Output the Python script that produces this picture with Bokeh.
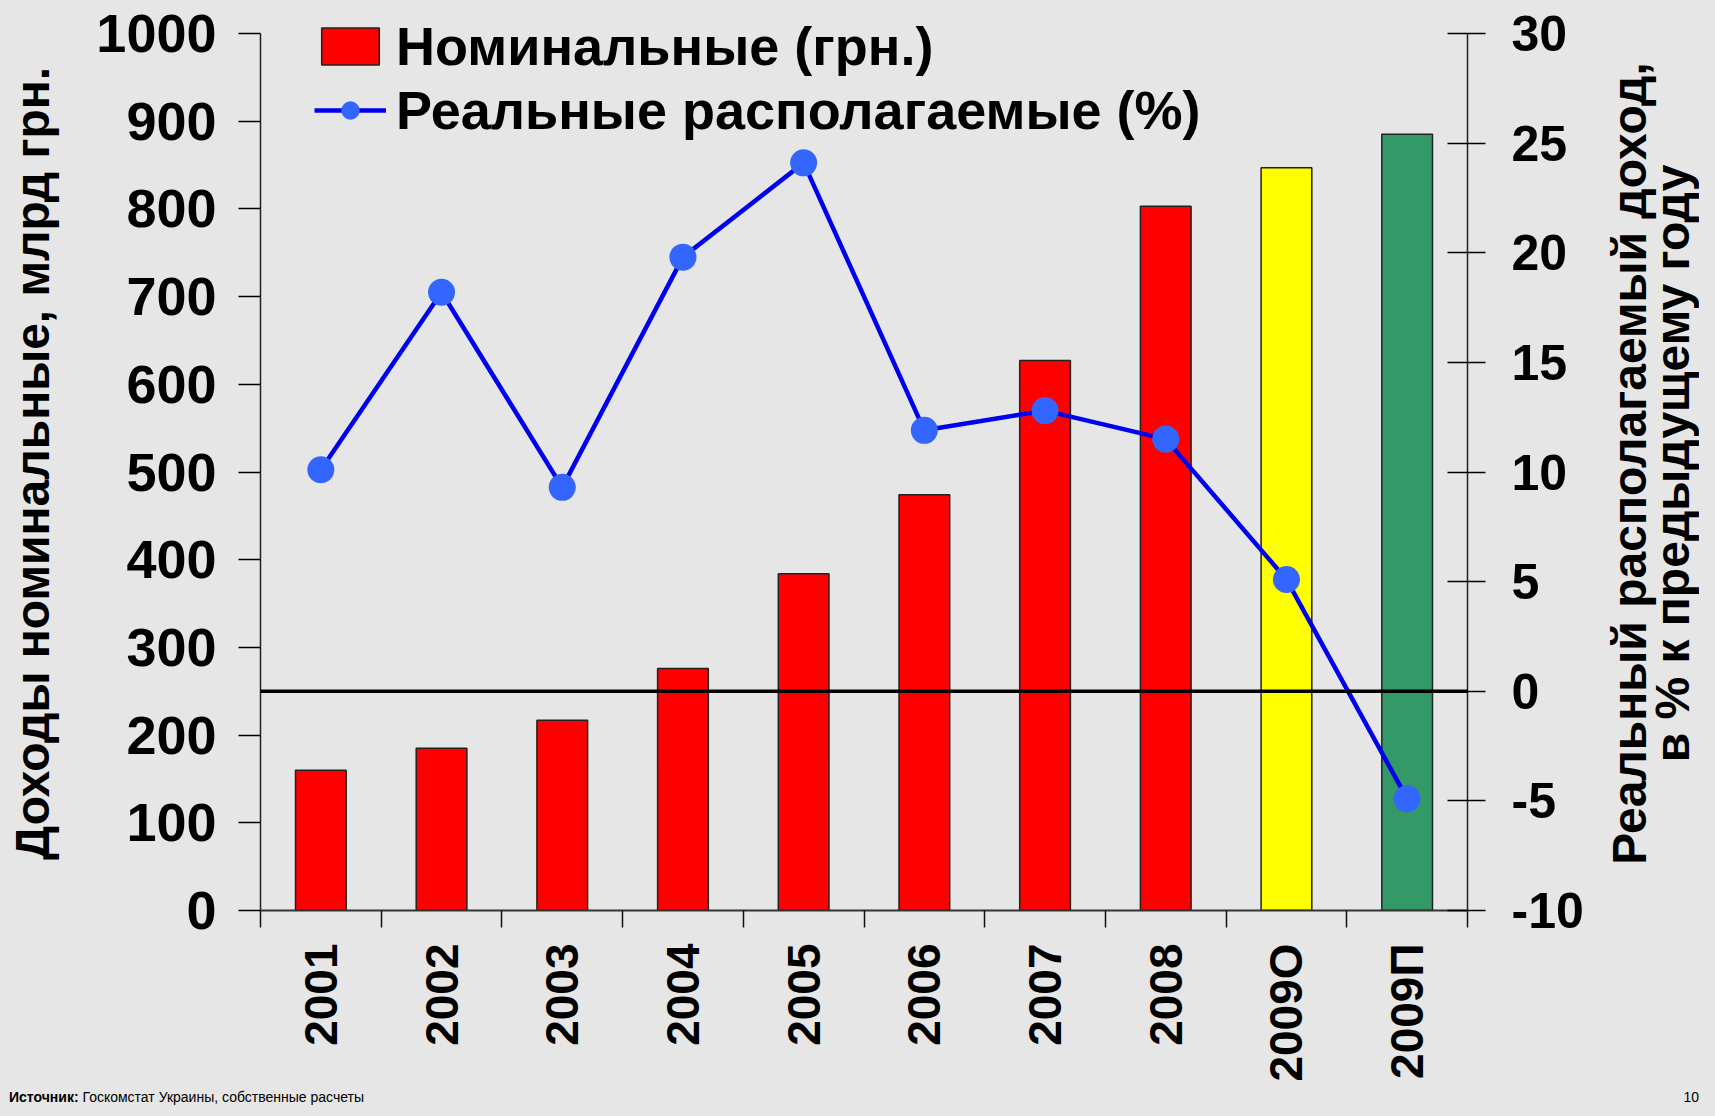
import numpy as np
from bokeh.plotting import figure
from bokeh.layouts import row, column
from bokeh.models import (Range1d, LinearAxis, FixedTicker, ColumnDataSource, Legend,
                          LegendItem, Span, Div)
from bokeh.embed import file_html
from bokeh.resources import INLINE

# ---- data ----
categories = ["2001", "2002", "2003", "2004", "2005", "2006", "2007", "2008", "2009О", "2009П"]
nominal = [160, 185, 217, 276, 384, 474, 627, 803, 847, 885]          # млрд грн.
real_pct = [10.1, 18.2, 9.3, 19.8, 24.1, 11.9, 12.8, 11.5, 5.1, -4.9]  # % к предыдущему году
left_ticks = list(range(0, 1001, 100))
right_ticks = list(range(-10, 31, 5))

# ---- styles / geometry ----
bar_colors = ["#ff0000"] * 8 + ["#ffff00", "#339966"]
FONT = "Liberation Sans"
BG = "#e6e6e6"

W_MAIN, W_SIDE, H_MAIN, H_FOOT = 1600, 99, 1084, 16
FL, FR, FT, FB = 260, 1467, 16, 910   # frame edges in canvas px
AX_TOP = 33                           # pixel row where the axes end (1000 / 30)

L_MIN, L_MAX = left_ticks[0], left_ticks[-1]
R_MIN, R_MAX = right_ticks[0], right_ticks[-1]
extra_px = AX_TOP - FT
l_end = L_MAX + extra_px * (L_MAX - L_MIN) / (FB - AX_TOP)
r_end = R_MAX + extra_px * (R_MAX - R_MIN) / (FB - AX_TOP)

x = np.arange(len(categories)) + 0.5
src = ColumnDataSource(dict(x=x, nominal=nominal, real=real_pct, color=bar_colors))

p = figure(width=W_MAIN, height=H_MAIN, output_backend="svg", toolbar_location=None,
           x_range=Range1d(0, len(categories)), y_range=Range1d(L_MIN, l_end),
           min_border_left=FL, min_border_right=W_MAIN - FR, min_border_top=FT,
           min_border_bottom=H_MAIN - FB,
           background_fill_color=BG, border_fill_color=BG, outline_line_color=None)
p.extra_y_ranges = {"pct": Range1d(R_MIN, r_end)}
p.xgrid.visible = False
p.ygrid.visible = False

# bars
bars = p.vbar(x="x", top="nominal", width=0.42, fill_color="color", line_color="#222222",
              line_width=1.5, source=src)
# zero line on right axis
p.add_layout(Span(location=0, dimension="width", y_range_name="pct",
                  line_color="black", line_width=3.5))
# line
ln = p.line("x", "real", source=src, y_range_name="pct", line_color="#0000f0", line_width=4.5)
mk = p.scatter("x", "real", source=src, y_range_name="pct", size=27,
               fill_color="#3366ff", line_color=None)

# x axis
xax = p.xaxis[0]
xax.ticker = FixedTicker(ticks=list(x), minor_ticks=list(range(0, len(categories) + 1)))
xax.major_label_overrides = {float(v): c for v, c in zip(x, categories)}
xax.major_tick_line_color = None
xax.major_tick_out = 17
xax.minor_tick_out = 17
xax.minor_tick_in = 0
xax.minor_tick_line_color = "#111111"
xax.minor_tick_line_width = 1.5
xax.axis_line_color = "#333333"
xax.axis_line_width = 2
xax.major_label_orientation = np.pi / 2
xax.major_label_standoff = 16
xax.major_label_text_font = FONT
xax.major_label_text_font_style = "bold"
xax.major_label_text_font_size = "46px"
xax.major_label_text_color = "black"

# left axis
yax = p.yaxis[0]
yax.ticker = FixedTicker(ticks=left_ticks)
yax.bounds = (L_MIN, L_MAX)
yax.major_tick_out = 22
yax.major_tick_in = 0
yax.minor_tick_line_color = None
yax.axis_line_color = "#222222"
yax.axis_line_width = 1.5
yax.major_tick_line_width = 1.5
yax.major_label_standoff = 22
yax.major_label_text_font = FONT
yax.major_label_text_font_style = "bold"
yax.major_label_text_font_size = "54px"
yax.major_label_text_color = "black"
yax.axis_label = "Доходы номинальные, млрд грн."
yax.axis_label_text_font = FONT
yax.axis_label_text_font_style = "bold"
yax.axis_label_text_font_size = "48px"
yax.axis_label_text_color = "black"
yax.axis_label_standoff = 34

# right axis (ticks + labels)
rax = LinearAxis(y_range_name="pct", ticker=FixedTicker(ticks=right_ticks),
                 bounds=(R_MIN, R_MAX))
rax.major_label_overrides = {t: str(t) for t in right_ticks if t < 0}
rax.major_tick_out = 18
rax.major_tick_in = 20
rax.minor_tick_line_color = None
rax.axis_line_color = "#222222"
rax.axis_line_width = 1.5
rax.major_tick_line_width = 1.5
rax.major_label_standoff = 26
rax.major_label_text_font = FONT
rax.major_label_text_font_style = "bold"
rax.major_label_text_font_size = "50px"
rax.major_label_text_color = "black"
p.add_layout(rax, "right")

# legend
legend = Legend(items=[
    LegendItem(label="Номинальные (грн.)", renderers=[bars], index=0),
    LegendItem(label="Реальные располагаемые (%)", renderers=[ln, mk]),
], location=(54, 768), orientation="vertical",
    background_fill_alpha=0, border_line_color=None, padding=0, margin=0,
    glyph_width=72, glyph_height=46, label_height=64, spacing=0, label_standoff=10,
    label_text_font=FONT, label_text_font_style="bold", label_text_font_size="54px",
    label_text_color="black")
p.add_layout(legend)

# right-hand title panel (reads bottom-to-top, like the reference)
side = figure(width=W_SIDE, height=H_MAIN, output_backend="svg", toolbar_location=None,
              x_range=Range1d(0, 1), y_range=Range1d(0, 1),
              min_border_left=65, min_border_right=0, min_border_top=FT,
              min_border_bottom=H_MAIN - FB,
              background_fill_color=BG, border_fill_color=BG, outline_line_color=None)
side.xaxis.visible = False
side.xgrid.visible = False
side.ygrid.visible = False
sax = side.yaxis[0]
sax.ticker = FixedTicker(ticks=[])
sax.axis_line_color = None
sax.major_tick_line_color = None
sax.minor_tick_line_color = None
sax.major_tick_out = 0
sax.major_tick_in = 0
sax.major_label_standoff = 0
sax.axis_label = "Реальный располагаемый доход,\nв % к предыдущему году"
sax.axis_label_text_font = FONT
sax.axis_label_text_font_style = "bold"
sax.axis_label_text_font_size = "48px"
sax.axis_label_text_color = "black"
sax.axis_label_text_line_height = 0.8
sax.axis_label_standoff = 0

# footer
footer = Div(
    text=('<div style="display:flex;justify-content:space-between;width:1690px;'
          'font-family:\'Liberation Sans\';font-size:14px;line-height:16px;color:black">'
          '<span><b>Источник:</b> Госкомстат Украины, собственные расчеты</span>'
          '<span>10</span></div>'),
    width=W_MAIN + W_SIDE, height=H_FOOT,
    styles={"background-color": BG, "overflow": "hidden", "padding-left": "4px"})

top_row = row(p, side, spacing=0, styles={"background-color": BG})
layout = column(top_row, footer, spacing=0, styles={"background-color": BG})
html = file_html(layout, INLINE)
html = html.replace("</head>", "<style>html, body { background-color: %s; }</style></head>" % BG, 1)
open("out.html", "w").write(html)
